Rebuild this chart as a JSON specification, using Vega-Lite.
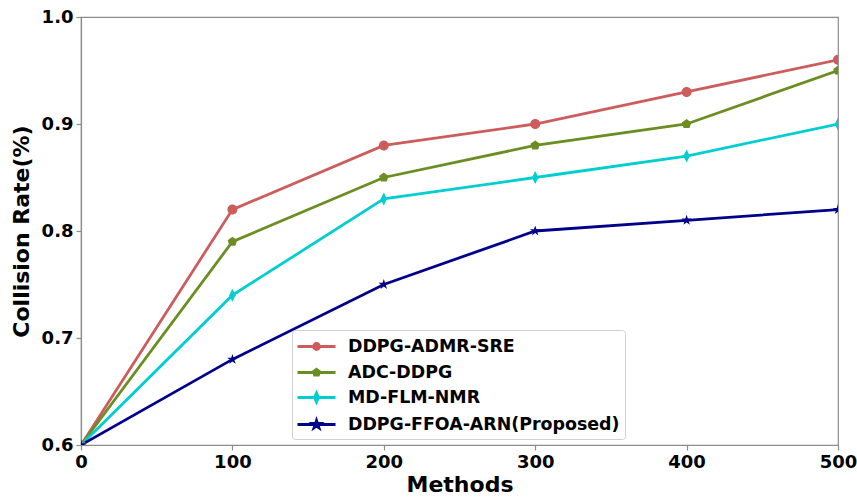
{
  "$schema": "https://vega.github.io/schema/vega-lite/v6.json",
  "width": 757,
  "height": 428,
  "autosize": {"type": "none"},
  "padding": {"left": 81, "top": 17, "right": 19, "bottom": 54},
  "config": {
    "font": "DejaVu Sans",
    "view": {"stroke": "#8c8c8c", "strokeWidth": 1.2},
    "axis": {
      "grid": false,
      "domainColor": "#8c8c8c",
      "domainWidth": 1.2,
      "tickColor": "#8c8c8c",
      "tickSize": 5,
      "tickWidth": 1.2,
      "labelFont": "DejaVu Sans",
      "labelFontSize": 18,
      "labelFontWeight": "bold",
      "labelColor": "#000000",
      "labelPadding": 3,
      "labelFlush": false,
      "titleFont": "DejaVu Sans",
      "titleFontSize": 22,
      "titleFontWeight": "bold",
      "titleColor": "#000000"
    }
  },
  "data": {
    "values": [
      {"x": 0, "y": 0.6, "series": "DDPG-ADMR-SRE"},
      {"x": 100, "y": 0.82, "series": "DDPG-ADMR-SRE"},
      {"x": 200, "y": 0.88, "series": "DDPG-ADMR-SRE"},
      {"x": 300, "y": 0.90, "series": "DDPG-ADMR-SRE"},
      {"x": 400, "y": 0.93, "series": "DDPG-ADMR-SRE"},
      {"x": 500, "y": 0.96, "series": "DDPG-ADMR-SRE"},
      {"x": 0, "y": 0.6, "series": "ADC-DDPG"},
      {"x": 100, "y": 0.79, "series": "ADC-DDPG"},
      {"x": 200, "y": 0.85, "series": "ADC-DDPG"},
      {"x": 300, "y": 0.88, "series": "ADC-DDPG"},
      {"x": 400, "y": 0.90, "series": "ADC-DDPG"},
      {"x": 500, "y": 0.95, "series": "ADC-DDPG"},
      {"x": 0, "y": 0.6, "series": "MD-FLM-NMR"},
      {"x": 100, "y": 0.74, "series": "MD-FLM-NMR"},
      {"x": 200, "y": 0.83, "series": "MD-FLM-NMR"},
      {"x": 300, "y": 0.85, "series": "MD-FLM-NMR"},
      {"x": 400, "y": 0.87, "series": "MD-FLM-NMR"},
      {"x": 500, "y": 0.90, "series": "MD-FLM-NMR"},
      {"x": 0, "y": 0.6, "series": "DDPG-FFOA-ARN(Proposed)"},
      {"x": 100, "y": 0.68, "series": "DDPG-FFOA-ARN(Proposed)"},
      {"x": 200, "y": 0.75, "series": "DDPG-FFOA-ARN(Proposed)"},
      {"x": 300, "y": 0.80, "series": "DDPG-FFOA-ARN(Proposed)"},
      {"x": 400, "y": 0.81, "series": "DDPG-FFOA-ARN(Proposed)"},
      {"x": 500, "y": 0.82, "series": "DDPG-FFOA-ARN(Proposed)"}
    ]
  },
  "encoding": {
    "x": {
      "field": "x",
      "type": "quantitative",
      "scale": {"domain": [0, 500], "nice": false, "zero": false},
      "axis": {"values": [0, 100, 200, 300, 400, 500], "title": "Methods", "titlePadding": 3}
    },
    "y": {
      "field": "y",
      "type": "quantitative",
      "scale": {"domain": [0.6, 1.0], "nice": false, "zero": false},
      "axis": {"values": [0.6, 0.7, 0.8, 0.9, 1.0], "format": ".1f", "title": "Collision Rate(%)", "titlePadding": 8}
    },
    "color": {
      "field": "series",
      "type": "nominal",
      "scale": {
        "domain": ["DDPG-ADMR-SRE", "ADC-DDPG", "MD-FLM-NMR", "DDPG-FFOA-ARN(Proposed)"],
        "range": ["#CD5C5C", "#6B8E23", "#00CED1", "#00008B"]
      },
      "legend": {
        "title": null,
        "orient": "none",
        "legendX": 211,
        "legendY": 313,
        "direction": "vertical",
        "padding": 5,
        "strokeColor": "#d0d0d0",
        "fillColor": "#ffffff",
        "cornerRadius": 3,
        "symbolSize": 400,
        "symbolOffset": 8,
        "labelOffset": 20,
        "rowPadding": 5,
        "labelFont": "DejaVu Sans",
        "labelFontSize": 17.4,
        "labelFontWeight": "bold",
        "labelColor": "#000000",
        "labelLimit": 400,
        "encoding": {
          "symbols": {
            "shape": {"value": {"expr": "datum.value === 'DDPG-ADMR-SRE' ? 'M-1.9,0H1.9M0.3,0A0.3,0.3 0 1 1 -0.3,0A0.3,0.3 0 1 1 0.3,0Z' : datum.value === 'ADC-DDPG' ? 'M-1.9,0H1.9M0,-0.32L0.3,-0.1L0.19,0.26L-0.19,0.26L-0.3,-0.1Z' : datum.value === 'MD-FLM-NMR' ? 'M-1.9,0H1.9M0,-0.45L0.2,0L0,0.45L-0.2,0Z' : 'M-1.9,0H1.9M0,-0.4L0.09,-0.12L0.38,-0.12L0.15,0.05L0.24,0.32L0,0.15L-0.24,0.32L-0.15,0.05L-0.38,-0.12L-0.09,-0.12Z'"}},
            "fill": {"value": {"expr": "scale('color', datum.value)"}},
            "stroke": {"value": {"expr": "scale('color', datum.value)"}},
            "strokeWidth": {"value": 2.8},
            "opacity": {"value": 1},
            "fillOpacity": {"value": 1},
            "strokeOpacity": {"value": 1}
          }
        }
      }
    }
  },
  "layer": [
    {
      "mark": {"type": "line", "strokeWidth": 2.8, "clip": true}
    },
    {
      "transform": [{"filter": "datum.series === 'DDPG-ADMR-SRE'"}],
      "mark": {"type": "point", "filled": true, "opacity": 1, "size": 100, "clip": true, "shape": "M1,0A1,1 0 1 1 -1,0A1,1 0 1 1 1,0Z"}
    },
    {
      "transform": [{"filter": "datum.series === 'ADC-DDPG'"}],
      "mark": {"type": "point", "filled": true, "opacity": 1, "size": 100, "clip": true, "shape": "M0,-1L0.951,-0.309L0.588,0.809L-0.588,0.809L-0.951,-0.309Z"}
    },
    {
      "transform": [{"filter": "datum.series === 'MD-FLM-NMR'"}],
      "mark": {"type": "point", "filled": true, "opacity": 1, "size": 100, "clip": true, "shape": "M0,-1.3L0.65,0L0,1.3L-0.65,0Z"}
    },
    {
      "transform": [{"filter": "datum.series === 'DDPG-FFOA-ARN(Proposed)'"}],
      "mark": {"type": "point", "filled": true, "opacity": 1, "size": 100, "clip": true, "shape": "M0,-1.1L0.247,-0.34L1.046,-0.34L0.4,0.13L0.647,0.89L0,0.42L-0.647,0.89L-0.4,0.13L-1.046,-0.34L-0.247,-0.34Z"}
    }
  ]
}
